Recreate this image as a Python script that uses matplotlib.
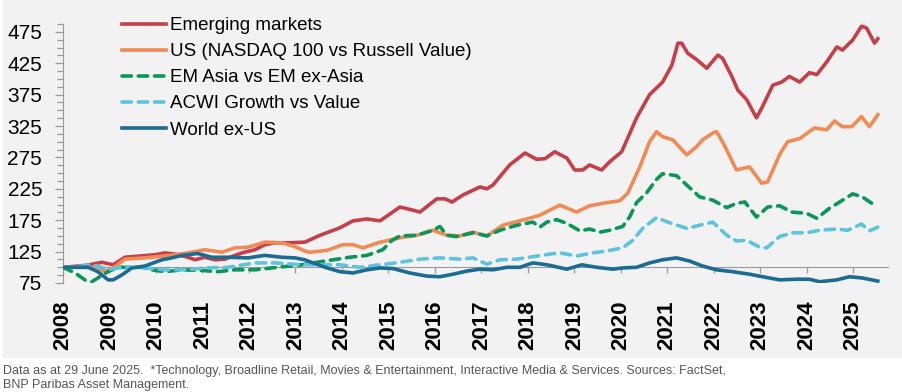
import matplotlib
matplotlib.use("Agg")
import matplotlib.pyplot as plt
from matplotlib.patches import Rectangle
from matplotlib.ticker import MultipleLocator

plt.rcParams['font.family'] = ['Liberation Sans', 'DejaVu Sans']

# Emerging markets
em_years = [2008.00, 2008.49, 2008.84, 2009.08, 2009.33, 2009.98, 2010.19, 2010.41, 2010.69, 2010.84,
            2011.05, 2011.27, 2011.48, 2011.85, 2012.13, 2012.34, 2012.56, 2012.84, 2013.20, 2013.53,
            2013.96, 2014.24, 2014.54, 2014.82, 2015.25, 2015.53, 2015.68, 2016.04, 2016.22, 2016.37,
            2016.60, 2016.97, 2017.12, 2017.25, 2017.61, 2017.94, 2018.19, 2018.37, 2018.58, 2018.84,
            2019.01, 2019.18, 2019.33, 2019.59, 2019.76, 2020.02, 2020.34, 2020.62, 2020.90, 2021.10,
            2021.23, 2021.31, 2021.44, 2021.63, 2021.85, 2022.09, 2022.19, 2022.39, 2022.52, 2022.71,
            2022.92, 2023.05, 2023.27, 2023.46, 2023.63, 2023.85, 2024.06, 2024.22, 2024.43, 2024.65,
            2024.77, 2024.99, 2025.18, 2025.29, 2025.46, 2025.53]
em_vals = [100, 103, 108, 104, 116, 120, 123, 121, 116, 112,
           116, 112, 113, 123, 128, 136, 139, 139, 140, 151,
           163, 174, 177, 174, 196, 191, 188, 209, 209, 204,
           215, 228, 225, 231, 263, 282, 272, 273, 284, 274,
           255, 255, 263, 255, 268, 284, 338, 375, 395, 422,
           457, 457, 441, 431, 417, 438, 433, 404, 382, 367,
           338, 356, 390, 395, 404, 395, 410, 407, 427, 451,
           446, 462, 484, 481, 457, 464]

# US (NASDAQ 100 vs Russell Value)
us_years = [2008.00, 2008.26, 2008.54, 2008.75, 2008.90, 2009.08, 2009.33, 2009.76, 2010.19, 2010.69,
            2011.05, 2011.42, 2011.70, 2011.98, 2012.34, 2012.71, 2012.99, 2013.20, 2013.31, 2013.68,
            2014.02, 2014.24, 2014.45, 2014.82, 2015.25, 2015.61, 2015.96, 2016.26, 2016.54, 2016.82,
            2017.12, 2017.46, 2017.98, 2018.26, 2018.47, 2018.69, 2019.05, 2019.33, 2019.70, 2019.98,
            2020.15, 2020.41, 2020.62, 2020.77, 2020.90, 2021.12, 2021.42, 2021.63, 2021.76, 2021.98,
            2022.06, 2022.19, 2022.49, 2022.77, 2023.03, 2023.16, 2023.42, 2023.59, 2023.85, 2024.17,
            2024.43, 2024.60, 2024.77, 2024.97, 2025.18, 2025.35, 2025.53]
us_vals = [100, 100, 100, 100, 93, 99, 113, 115, 118, 123,
           128, 124, 131, 132, 140, 139, 133, 126, 124, 127,
           136, 136, 131, 140, 147, 151, 159, 151, 150, 156,
           150, 167, 177, 183, 191, 199, 188, 198, 203, 206,
           218, 260, 300, 316, 308, 303, 279, 292, 303, 314,
           316, 300, 255, 260, 234, 236, 280, 300, 305, 322,
           319, 333, 324, 324, 340, 324, 343]

# EM Asia vs EM ex-Asia
asia_years = [2008.00, 2008.26, 2008.47, 2008.62, 2008.75, 2008.97, 2009.18, 2009.48, 2009.70, 2009.91,
              2010.19, 2010.56, 2010.99, 2011.33, 2011.70, 2012.13, 2012.49, 2012.88, 2013.14, 2013.46,
              2013.81, 2014.17, 2014.54, 2014.88, 2015.08, 2015.25, 2015.61, 2015.96, 2016.11, 2016.26,
              2016.47, 2016.82, 2017.12, 2017.40, 2017.76, 2018.11, 2018.26, 2018.41, 2018.62, 2018.84,
              2019.12, 2019.33, 2019.55, 2019.76, 2020.04, 2020.19, 2020.34, 2020.56, 2020.77, 2020.90,
              2021.20, 2021.42, 2021.70, 2021.98, 2022.28, 2022.49, 2022.67, 2022.92, 2023.16, 2023.42,
              2023.68, 2024.00, 2024.22, 2024.49, 2024.71, 2024.99, 2025.20, 2025.40, 2025.53]
asia_vals = [100, 91, 80, 77, 83, 93, 100, 100, 100, 96,
             93, 96, 95, 93, 96, 96, 99, 102, 104, 108,
             112, 116, 119, 128, 143, 150, 151, 159, 165, 151,
             149, 155, 150, 159, 167, 172, 164, 172, 176, 170,
             158, 161, 156, 159, 165, 180, 203, 219, 240, 249,
             246, 231, 212, 207, 195, 202, 204, 180, 196, 198,
             188, 186, 178, 194, 204, 217, 212, 202, 202]

# ACWI Growth vs Value
acwi_years = [2008.00, 2008.26, 2008.54, 2008.75, 2008.97, 2009.18, 2009.48, 2009.76, 2010.19, 2010.69,
              2011.05, 2011.55, 2012.13, 2012.56, 2013.14, 2013.53, 2013.96, 2014.39, 2014.82, 2015.25,
              2015.68, 2016.11, 2016.54, 2016.82, 2017.12, 2017.40, 2017.76, 2018.11, 2018.47, 2018.69,
              2019.05, 2019.40, 2019.70, 2020.04, 2020.26, 2020.47, 2020.77, 2021.05, 2021.42, 2021.70,
              2021.98, 2022.28, 2022.49, 2022.71, 2022.99, 2023.14, 2023.42, 2023.70, 2024.00, 2024.28,
              2024.65, 2024.88, 2025.18, 2025.35, 2025.53]
acwi_vals = [100, 100, 104, 102, 96, 99, 100, 99, 96, 96,
             99, 100, 107, 107, 104, 104, 104, 100, 104, 108,
             113, 115, 113, 115, 105, 112, 113, 117, 121, 123,
             118, 123, 126, 131, 143, 162, 179, 171, 162, 167,
             172, 151, 142, 143, 132, 131, 149, 155, 155, 159,
             161, 159, 169, 158, 164]

# World ex-US
wx_years = [2008.00, 2008.26, 2008.54, 2008.75, 2008.97, 2009.08, 2009.27, 2009.48, 2009.76, 2010.13,
            2010.34, 2010.56, 2010.90, 2011.20, 2011.55, 2011.98, 2012.34, 2012.71, 2012.99, 2013.20,
            2013.38, 2013.68, 2013.96, 2014.24, 2014.54, 2014.82, 2015.10, 2015.46, 2015.83, 2016.11,
            2016.39, 2016.69, 2016.97, 2017.25, 2017.55, 2017.83, 2018.11, 2018.41, 2018.54, 2018.84,
            2019.16, 2019.48, 2019.83, 2020.04, 2020.34, 2020.62, 2020.90, 2021.20, 2021.48, 2021.76,
            2022.06, 2022.41, 2022.77, 2023.05, 2023.42, 2023.78, 2024.06, 2024.28, 2024.65, 2024.92,
            2025.20, 2025.53]
wx_vals = [100, 100, 100, 93, 80, 80, 88, 99, 102, 112,
           115, 119, 122, 116, 116, 115, 119, 116, 115, 112,
           107, 99, 93, 91, 96, 99, 98, 91, 86, 85,
           89, 94, 97, 96, 100, 100, 107, 104, 102, 97,
           104, 100, 97, 99, 100, 107, 112, 115, 110, 102,
           96, 93, 89, 85, 80, 81, 81, 77, 80, 85,
           83, 78]

years = list(range(2008, 2026))
yticks = [75, 125, 175, 225, 275, 325, 375, 425, 475]

fig = plt.figure(figsize=(9.03, 3.92), dpi=100)
# серый фон под графиком
fig.patches.append(Rectangle((3 / 903, 1 - 357 / 392), 1, 357 / 392,
                             transform=fig.transFigure, color='#f2f2f2', zorder=-10))
ax = fig.add_axes([63 / 903, 1 - 283 / 392, 825 / 903, 259 / 392])
ax.set_facecolor('none')

lw = 2.6
ax.plot(em_years, em_vals, color='#c63f48', lw=lw, label='Emerging markets', zorder=3)
ax.plot(us_years, us_vals, color='#f28a55', lw=lw, label='US (NASDAQ 100 vs Russell Value)', zorder=3)
ax.plot(asia_years, asia_vals, color='#0a9657', lw=lw, dashes=(2.6, 1.9), dash_capstyle='round',
        label='EM Asia vs EM ex-Asia', zorder=3)
ax.plot(acwi_years, acwi_vals, color='#5cc4dc', lw=lw, dashes=(2.6, 1.9), dash_capstyle='round',
        label='ACWI Growth vs Value', zorder=3)
ax.plot(wx_years, wx_vals, color='#1a6c92', lw=lw, label='World ex-US', zorder=3)

ax.set_xlim(2008, 2025.75)
ax.set_ylim(75, 487.5)

ax.spines['top'].set_visible(False)
ax.spines['right'].set_visible(False)
ax.spines['left'].set_color('#9a9a9a')
ax.spines['bottom'].set_color('#9a9a9a')
ax.spines['bottom'].set_position(('data', 100))

ax.set_yticks(yticks)
ax.yaxis.set_minor_locator(MultipleLocator(12.5))
ax.tick_params(axis='y', which='major', length=6, width=0.9, color='#9a9a9a',
               labelsize=15, pad=9)
ax.tick_params(axis='y', which='minor', length=4, width=0.9, color='#9a9a9a')

ax.set_xticks(years)
ax.set_xticklabels([str(y) for y in years], rotation=90, fontsize=16, fontweight='bold')
ax.tick_params(axis='x', which='major', length=4, width=0.9, color='#9a9a9a', pad=20)

leg = ax.legend(loc='upper left', bbox_to_anchor=(122 / 903, 1 - 17 / 392),
                bbox_transform=fig.transFigure, frameon=False, fontsize=13.5,
                handlelength=2.35, handletextpad=0.22, labelspacing=0.48,
                borderpad=0, borderaxespad=0)

fig.text(3 / 903, 1 - 365 / 392,
         'Data as at 29 June 2025.  *Technology, Broadline Retail, Movies & Entertainment, '
         'Interactive Media & Services. Sources: FactSet,\nBNP Paribas Asset Management.',
         fontsize=9, color='#555555', va='top', linespacing=1.25)

fig.savefig('out.png', dpi=100)
